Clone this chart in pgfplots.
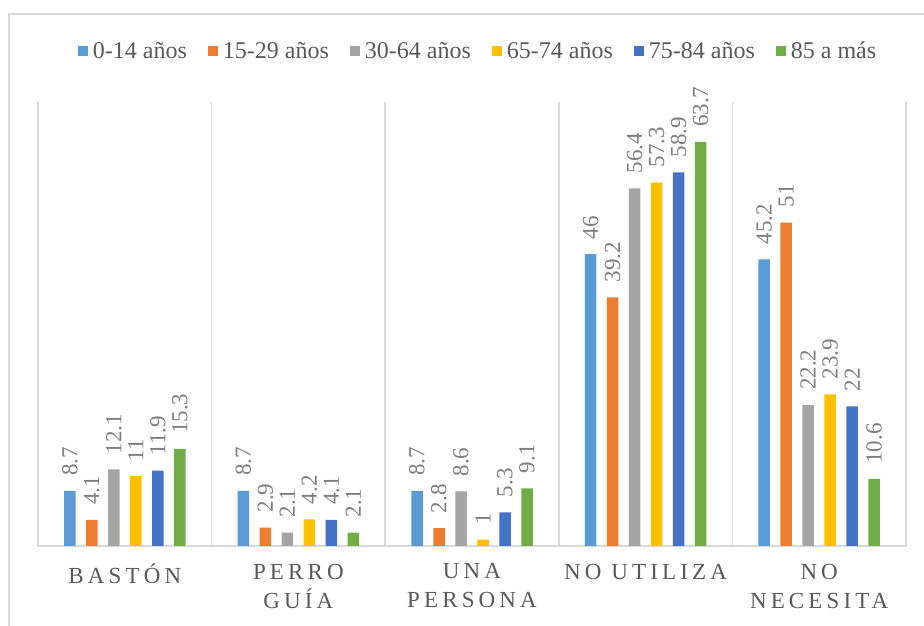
\documentclass[border=0pt]{standalone}
\usepackage{fontspec}
\setmainfont{Liberation Serif}
\newfontfamily\catfont{Liberation Serif}[LetterSpace=18]
\usepackage{pgfplots}
\pgfplotsset{compat=1.18}
\usepackage{pgfplotstable}
\definecolor{c1}{HTML}{5B9BD5}
\definecolor{c2}{HTML}{ED7D31}
\definecolor{c3}{HTML}{A5A5A5}
\definecolor{c4}{HTML}{FFC000}
\definecolor{c5}{HTML}{4472C4}
\definecolor{c6}{HTML}{70AD47}
\definecolor{gridc}{HTML}{D9D9D9}
\definecolor{txt}{HTML}{595959}
\definecolor{lbl}{HTML}{7F7F7F}

\pgfplotstableread{
x a b c d e f
0 8.7 4.1 12.1 11 11.9 15.3
1 8.7 2.9 2.1 4.2 4.1 2.1
2 8.7 2.8 8.6 1 5.3 9.1
3 46 39.2 56.4 57.3 58.9 63.7
4 45.2 51 22.2 23.9 22 10.6
}\data

\begin{document}
\begin{tikzpicture}
\begin{axis}[scale only axis,
  width=868pt, height=444pt,
  ybar=10.5pt, bar width=11.5pt,
  xmin=-0.5, xmax=4.5, ymin=0, ymax=70,
  axis line style={draw=none}, tick style={draw=none},
  xtick={0,1,2,3,4},
  xticklabels={BASTÓN,{PERRO\\GUÍA},{UNA\\PERSONA},{NO UTILIZA},{NO\\NECESITA}},
  minor xtick={-0.5,0.5,1.5,2.5,3.5,4.5},
  xminorgrids, minor x grid style={gridc, line width=1.5pt},
  ytick={0}, yticklabels={}, ymajorgrids, major y grid style={gridc, line width=1.5pt},
  xticklabel style={align=center, font=\catfont\fontsize{23}{29}\selectfont, text=txt, yshift=-10pt},
  /pgf/number format/assume math mode=true,
  nodes near coords,
  every node near coord/.append style={rotate=90, anchor=west, font=\fontsize{23}{23}\selectfont, text=lbl, inner xsep=15pt},
  legend columns=6,
  legend style={draw=none, at={(0.507,1.115)}, anchor=center, font=\fontsize{24}{24}\selectfont, text=txt,
    /tikz/every odd column/.append style={column sep=3pt},
    /tikz/every even column/.append style={column sep=19pt}},
  legend image code/.code={\fill[#1, draw=none] (0pt,-5pt) rectangle (10pt,5pt);},
]
\addplot[fill=c1, draw=none] table[x=x, y=a] {\data};
\addplot[fill=c2, draw=none] table[x=x, y=b] {\data};
\addplot[fill=c3, draw=none] table[x=x, y=c] {\data};
\addplot[fill=c4, draw=none] table[x=x, y=d] {\data};
\addplot[fill=c5, draw=none] table[x=x, y=e] {\data};
\addplot[fill=c6, draw=none] table[x=x, y=f] {\data};
\legend{0-14 años, 15-29 años, 30-64 años, 65-74 años, 75-84 años, 85 a más}
\coordinate (SW) at (rel axis cs:0,0);
\end{axis}
\pgfresetboundingbox
\path[use as bounding box] ([shift={(-38pt,-80pt)}]SW) rectangle ++(924pt,626pt);
\draw[gridc, line width=1.5pt] ([shift={(-29pt,-100pt)}]SW) -- ([shift={(-29pt,532pt)}]SW) -- ([shift={(920pt,532pt)}]SW);
\end{tikzpicture}
\end{document}
